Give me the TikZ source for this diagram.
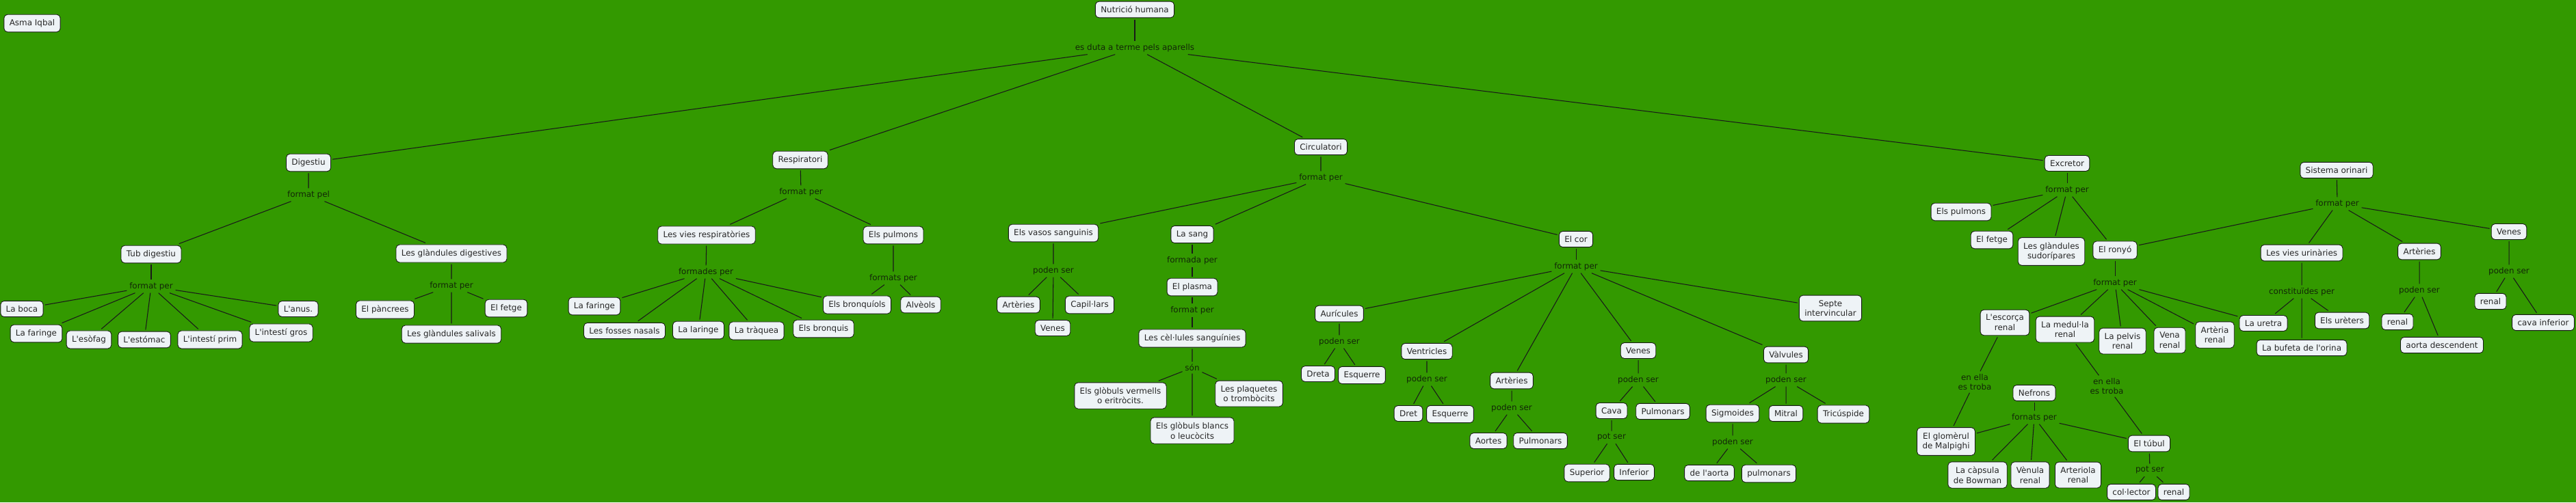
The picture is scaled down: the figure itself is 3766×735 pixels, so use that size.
\documentclass[tikz,border=0pt]{standalone}
\usepackage{fontspec}
\setmainfont{DejaVu Sans}
\definecolor{mapgreen}{RGB}{51,153,0}
\definecolor{boxfill}{RGB}{238,243,246}
\definecolor{linktext}{RGB}{18,38,8}
\newcommand{\ap}{\textquotesingle}
\begin{document}
\begin{tikzpicture}[x=0.02cm,y=-0.02cm,font=\fontsize{6.8}{8.3}\selectfont,
    concept/.style={draw=black!90,fill=boxfill,text=black!85,rounded corners=3pt,
        inner xsep=4.5pt,inner ysep=4pt,outer sep=1.5pt,line width=0.5pt,align=center},
    link/.style={text=linktext,inner sep=2pt,align=center},
    conn/.style={line width=0.6pt,black!90}]
    \useasboundingbox (0,0) rectangle (3766,735);
    \fill[mapgreen] (0,0) rectangle (3766,735);

    \node[concept] (asma) at (47,34) {Asma Iqbal};
    \node[concept] (nutricio) at (1659,14) {Nutrició humana};
    \node[link] (duta) at (1659,70) {es duta a terme pels aparells};

    % digestiu
    \node[concept] (digestiu) at (451,238) {Digestiu};
    \node[link] (fdig) at (451,285) {format pel};
    \node[concept] (tub) at (221,372) {Tub digestiu};
    \node[concept] (glandig) at (660,371) {Les glàndules digestives};
    \node[link] (ftub) at (221,419) {format per};
    \node[concept] (boca) at (32,452) {La boca};
    \node[concept] (faringe) at (53,488) {La faringe};
    \node[concept] (esofag) at (130,497) {L\ap esòfag};
    \node[concept] (estomac) at (211,497) {L\ap estómac};
    \node[concept] (prim) at (307,497) {L\ap intestí prim};
    \node[concept] (gros) at (411,487) {L\ap intestí gros};
    \node[concept] (anus) at (436,452) {L\ap anus.};
    \node[link] (fglan) at (660,418) {format per};
    \node[concept] (pancrees) at (563,453) {El pàncrees};
    \node[concept] (salivals) at (660,489) {Les glàndules salivals};
    \node[concept] (fetge) at (740,451) {El fetge};

    % respiratori
    \node[concept] (respiratori) at (1170,234) {Respiratori};
    \node[link] (fresp) at (1171,281) {format per};
    \node[concept] (viesresp) at (1033,344) {Les vies respiratòries};
    \node[concept] (pulmons) at (1306,344) {Els pulmons};
    \node[link] (fvies) at (1032,398) {formades per};
    \node[concept] (rfaringe) at (869,448) {La faringe};
    \node[concept] (fosses) at (913,484) {Les fosses nasals};
    \node[concept] (laringe) at (1021,483) {La laringe};
    \node[concept] (traquea) at (1106,484) {La tràquea};
    \node[concept] (bronquis) at (1204,481) {Els bronquis};
    \node[concept] (bronquiols) at (1253,446) {Els bronquíols};
    \node[link] (fpulm) at (1306,407) {formats per};
    \node[concept] (alveols) at (1346,446) {Alvèols};

    % circulatori
    \node[concept] (circulatori) at (1931,215) {Circulatori};
    \node[link] (fcirc) at (1931,260) {format per};
    \node[concept] (vasos) at (1540,341) {Els vasos sanguinis};
    \node[concept] (sang) at (1743,343) {La sang};
    \node[concept] (cor) at (2304,350) {El cor};
    \node[link] (pvasos) at (1540,396) {poden ser};
    \node[concept] (arteries) at (1489,446) {Artèries};
    \node[concept] (venes) at (1539,480) {Venes};
    \node[concept] (capil) at (1593,446) {Capil·lars};
    \node[link] (fsang) at (1743,381) {formada per};
    \node[concept] (plasma) at (1743,420) {El plasma};
    \node[link] (fplasma) at (1743,454) {format per};
    \node[concept] (cellules) at (1743,495) {Les cèl·lules sanguínies};
    \node[link] (son) at (1743,538) {són};
    \node[concept] (vermells) at (1638,579) {Els glòbuls vermells\\o eritròcits.};
    \node[concept] (blancs) at (1743,630) {Els glòbuls blancs\\o leucòcits};
    \node[concept] (plaquetes) at (1826,576) {Les plaquetes\\o trombòcits};

    % el cor
    \node[link] (fcor) at (2304,390) {format per};
    \node[concept] (auricules) at (1958,459) {Aurícules};
    \node[link] (pauric) at (1958,500) {poden ser};
    \node[concept] (dreta) at (1927,547) {Dreta};
    \node[concept] (esqaur) at (1991,549) {Esquerre};
    \node[concept] (ventricles) at (2086,514) {Ventricles};
    \node[link] (pventr) at (2086,555) {poden ser};
    \node[concept] (dret) at (2059,605) {Dret};
    \node[concept] (esqventr) at (2120,606) {Esquerre};
    \node[concept] (corart) at (2210,557) {Artèries};
    \node[link] (pcorart) at (2210,597) {poden ser};
    \node[concept] (aortes) at (2176,645) {Aortes};
    \node[concept] (artpulm) at (2252,645) {Pulmonars};
    \node[concept] (corven) at (2395,513) {Venes};
    \node[link] (pcorven) at (2395,556) {poden ser};
    \node[concept] (cava) at (2356,601) {Cava};
    \node[concept] (venpulm) at (2431,602) {Pulmonars};
    \node[link] (pcava) at (2356,640) {pot ser};
    \node[concept] (superior) at (2320,692) {Superior};
    \node[concept] (inferior) at (2389,691) {Inferior};
    \node[concept] (valvules) at (2611,519) {Vàlvules};
    \node[link] (pvalv) at (2611,556) {poden ser};
    \node[concept] (sigmoides) at (2533,605) {Sigmoides};
    \node[concept] (mitral) at (2611,605) {Mitral};
    \node[concept] (tricuspide) at (2695,606) {Tricúspide};
    \node[link] (psigm) at (2533,647) {poden ser};
    \node[concept] (deaorta) at (2499,692) {de l\ap aorta};
    \node[concept] (sigpulm) at (2586,693) {pulmonars};
    \node[concept] (septe) at (2676,451) {Septe\\intervincular};

    % excretor
    \node[concept] (excretor) at (3022,239) {Excretor};
    \node[link] (fexcr) at (3022,278) {format per};
    \node[concept] (expulm) at (2867,310) {Els pulmons};
    \node[concept] (exfetge) at (2912,351) {El fetge};
    \node[concept] (sudor) at (2999,368) {Les glàndules\\sudorípares};
    \node[concept] (ronyo) at (3092,366) {El ronyó};
    \node[link] (fronyo) at (3092,414) {format per};
    \node[concept] (escorca) at (2931,472) {L\ap escorça\\renal};
    \node[concept] (medulla) at (3019,482) {La medul·la\\renal};
    \node[concept] (pelvis) at (3103,499) {La pelvis\\renal};
    \node[concept] (vena) at (3172,498) {Vena\\renal};
    \node[concept] (arteria) at (3238,490) {Artèria\\renal};
    \node[concept] (uretra) at (3309,473) {La uretra};
    \node[link] (trobaesc) at (2887,559) {en ella\\es troba};
    \node[link] (trobamed) at (3080,565) {en ella\\es troba};
    \node[concept] (nefrons) at (2974,575) {Nefrons};
    \node[link] (fnefr) at (2974,611) {fornats per};
    \node[concept] (glomerul) at (2845,646) {El glomèrul\\de Malpighi};
    \node[concept] (capsula) at (2891,695) {La càpsula\\de Bowman};
    \node[concept] (venula) at (2968,695) {Vènula\\renal};
    \node[concept] (arteriola) at (3038,695) {Arteriola\\renal};
    \node[concept] (tubul) at (3142,649) {El túbul};
    \node[link] (ptubul) at (3143,688) {pot ser};
    \node[concept] (collector) at (3116,720) {col·lector};
    \node[concept] (tubrenal) at (3178,720) {renal};

    % sistema orinari
    \node[concept] (sistema) at (3416,249) {Sistema orinari};
    \node[link] (fsist) at (3417,298) {format per};
    \node[concept] (viesur) at (3365,370) {Les vies urinàries};
    \node[concept] (urart) at (3537,368) {Artèries};
    \node[concept] (urven) at (3668,339) {Venes};
    \node[link] (fviesur) at (3365,427) {constituïdes per};
    \node[concept] (ureters) at (3424,469) {Els urèters};
    \node[concept] (bufeta) at (3365,509) {La bufeta de l\ap orina};
    \node[link] (purart) at (3537,425) {poden ser};
    \node[concept] (artrenal) at (3505,471) {renal};
    \node[concept] (aortadesc) at (3570,505) {aorta descendent};
    \node[link] (purven) at (3668,397) {poden ser};
    \node[concept] (venrenal) at (3641,441) {renal};
    \node[concept] (cavainf) at (3718,472) {cava inferior};

    % connectors
    \draw[conn] (nutricio) -- (duta);
    \draw[conn] (duta) -- (digestiu) (duta) -- (respiratori) (duta) -- (circulatori) (duta) -- (excretor);

    \draw[conn] (digestiu) -- (fdig) (fdig) -- (tub) (fdig) -- (glandig);
    \draw[conn] (tub) -- (ftub);
    \draw[conn] (ftub) -- (boca) (ftub) -- (faringe) (ftub) -- (esofag) (ftub) -- (estomac)
        (ftub) -- (prim) (ftub) -- (gros) (ftub) -- (anus);
    \draw[conn] (glandig) -- (fglan) (fglan) -- (pancrees) (fglan) -- (salivals) (fglan) -- (fetge);

    \draw[conn] (respiratori) -- (fresp) (fresp) -- (viesresp) (fresp) -- (pulmons);
    \draw[conn] (viesresp) -- (fvies);
    \draw[conn] (fvies) -- (rfaringe) (fvies) -- (fosses) (fvies) -- (laringe) (fvies) -- (traquea)
        (fvies) -- (bronquis) (fvies) -- (bronquiols);
    \draw[conn] (pulmons) -- (fpulm) (fpulm) -- (bronquiols) (fpulm) -- (alveols);

    \draw[conn] (circulatori) -- (fcirc) (fcirc) -- (vasos) (fcirc) -- (sang) (fcirc) -- (cor);
    \draw[conn] (vasos) -- (pvasos) (pvasos) -- (arteries) (pvasos) -- (venes) (pvasos) -- (capil);
    \draw[conn] (sang) -- (fsang) (fsang) -- (plasma) (plasma) -- (fplasma) (fplasma) -- (cellules);
    \draw[conn] (cellules) -- (son) (son) -- (vermells) (son) -- (blancs) (son) -- (plaquetes);

    \draw[conn] (cor) -- (fcor);
    \draw[conn] (fcor) -- (auricules) (fcor) -- (ventricles) (fcor) -- (corart) (fcor) -- (corven)
        (fcor) -- (valvules) (fcor) -- (septe);
    \draw[conn] (auricules) -- (pauric) (pauric) -- (dreta) (pauric) -- (esqaur);
    \draw[conn] (ventricles) -- (pventr) (pventr) -- (dret) (pventr) -- (esqventr);
    \draw[conn] (corart) -- (pcorart) (pcorart) -- (aortes) (pcorart) -- (artpulm);
    \draw[conn] (corven) -- (pcorven) (pcorven) -- (cava) (pcorven) -- (venpulm);
    \draw[conn] (cava) -- (pcava) (pcava) -- (superior) (pcava) -- (inferior);
    \draw[conn] (valvules) -- (pvalv) (pvalv) -- (sigmoides) (pvalv) -- (mitral) (pvalv) -- (tricuspide);
    \draw[conn] (sigmoides) -- (psigm) (psigm) -- (deaorta) (psigm) -- (sigpulm);

    \draw[conn] (excretor) -- (fexcr);
    \draw[conn] (fexcr) -- (expulm) (fexcr) -- (exfetge) (fexcr) -- (sudor) (fexcr) -- (ronyo);
    \draw[conn] (ronyo) -- (fronyo);
    \draw[conn] (fronyo) -- (escorca) (fronyo) -- (medulla) (fronyo) -- (pelvis) (fronyo) -- (vena)
        (fronyo) -- (arteria) (fronyo) -- (uretra);
    \draw[conn] (escorca) -- (trobaesc) (trobaesc) -- (glomerul);
    \draw[conn] (medulla) -- (trobamed) (trobamed) -- (tubul);
    \draw[conn] (nefrons) -- (fnefr);
    \draw[conn] (fnefr) -- (glomerul) (fnefr) -- (capsula) (fnefr) -- (venula) (fnefr) -- (arteriola)
        (fnefr) -- (tubul);
    \draw[conn] (tubul) -- (ptubul) (ptubul) -- (collector) (ptubul) -- (tubrenal);

    \draw[conn] (sistema) -- (fsist);
    \draw[conn] (fsist) -- (ronyo) (fsist) -- (viesur) (fsist) -- (urart) (fsist) -- (urven);
    \draw[conn] (viesur) -- (fviesur) (fviesur) -- (uretra) (fviesur) -- (ureters) (fviesur) -- (bufeta);
    \draw[conn] (urart) -- (purart) (purart) -- (artrenal) (purart) -- (aortadesc);
    \draw[conn] (urven) -- (purven) (purven) -- (venrenal) (purven) -- (cavainf);
\end{tikzpicture}
\end{document}
